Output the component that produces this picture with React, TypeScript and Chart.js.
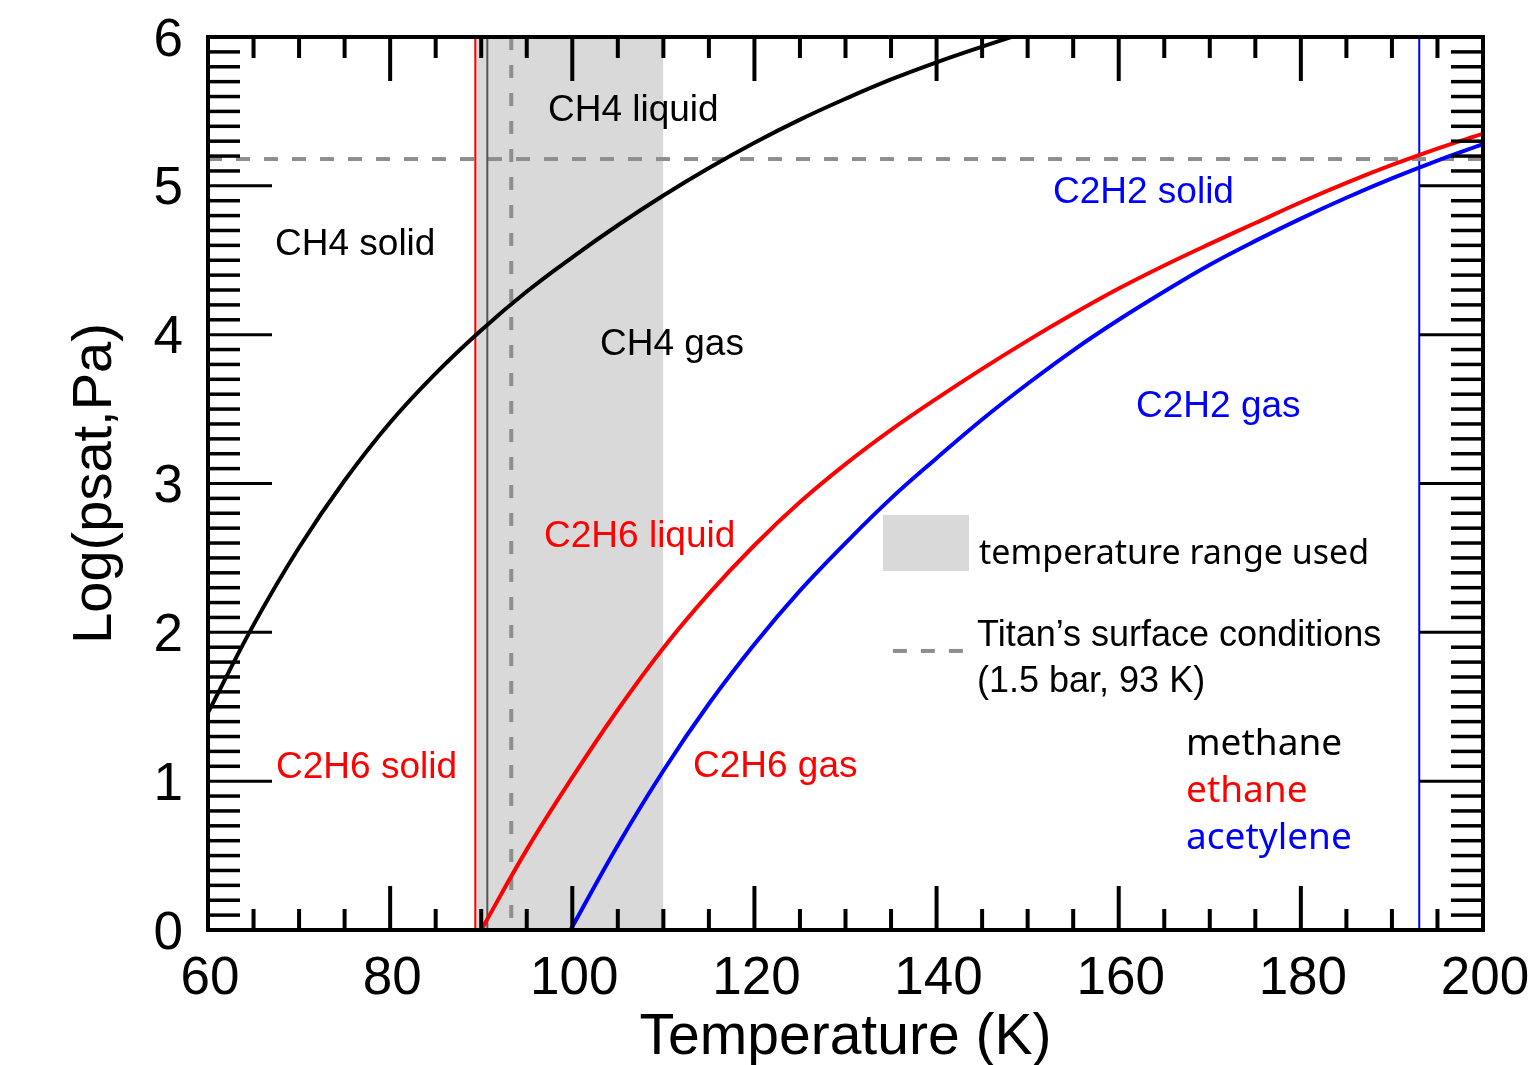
import React, { useEffect, useRef } from "react";
import { Chart, registerables } from "chart.js";

Chart.register(...registerables);

// ---- data ----
const methaneT = [60, 65, 70, 75, 80, 85, 90, 95, 100, 105, 110, 115, 120, 125, 130, 135, 140, 145, 150];
const methaneLogP = [1.46, 2.05, 2.57, 3.02, 3.41, 3.74, 4.03, 4.29, 4.52, 4.735, 4.935, 5.12, 5.29, 5.445, 5.585, 5.715, 5.83, 5.935, 6.035];

const ethaneT = [90, 95, 100, 105, 110, 115, 120, 125, 130, 135, 140, 145, 150, 155, 160, 165, 170, 175, 180, 185, 190, 195, 200];
const ethaneLogP = [0, 0.54, 1.025, 1.48, 1.895, 2.26, 2.585, 2.875, 3.13, 3.36, 3.57, 3.77, 3.96, 4.14, 4.31, 4.465, 4.61, 4.75, 4.89, 5.02, 5.14, 5.25, 5.35];

const acetyleneT = [99.8, 105, 110, 115, 120, 125, 130, 135, 140, 145, 150, 155, 160, 165, 170, 175, 180, 185, 190, 195, 200];
const acetyleneLogP = [0, 0.57, 1.07, 1.52, 1.92, 2.28, 2.6, 2.9, 3.17, 3.43, 3.67, 3.895, 4.1, 4.29, 4.47, 4.63, 4.78, 4.92, 5.05, 5.17, 5.28];

const ethaneTripleT = 89.35;
const methaneTripleT = 90.67;
const titanT = 93.3;
const titanLogP = 5.18;
const acetyleneTripleT = 193.0;
const rangeUsed = [89.4, 110];

const xTickLabels = [60, 80, 100, 120, 140, 160, 180, 200];
const yTickLabels = [0, 1, 2, 3, 4, 5, 6];

const regionLabels = [
  { text: "CH4 liquid", x: 97.33, y: 5.436, color: "#000000" },
  { text: "CH4 solid", x: 67.36, y: 4.535, color: "#000000" },
  { text: "CH4 gas", x: 103.04, y: 3.863, color: "#000000" },
  { text: "C2H6 liquid", x: 96.9, y: 2.573, color: "#ff0000" },
  { text: "C2H6 solid", x: 67.47, y: 1.021, color: "#ff0000" },
  { text: "C2H6 gas", x: 113.25, y: 1.028, color: "#ff0000" },
  { text: "C2H2 solid", x: 152.78, y: 4.885, color: "#0000ff" },
  { text: "C2H2 gas", x: 161.9, y: 3.447, color: "#0000ff" },
];

const speciesLegend = [
  { text: "methane", color: "#000000" },
  { text: "ethane", color: "#ff0000" },
  { text: "acetylene", color: "#0000ff" },
];

const SANS = "'Liberation Sans', Arial, Helvetica, sans-serif";
const HUMAN = "'Noto Sans', 'Open Sans', sans-serif";
const DASH_GRAY = "#8e8e8e";
const BAND_GRAY = "#d9d9d9";

const pts = (xs: number[], ys: number[]) => xs.map((x, i) => ({ x, y: ys[i] }));

const decorPlugin = {
  id: "decor",
  afterDatasetsDraw(chart: any) {
    const { ctx, chartArea: ca, scales } = chart;
    const xs = scales.x;
    const ys = scales.y;
    const X = (v: number) => xs.getPixelForValue(v);
    const Y = (v: number) => ys.getPixelForValue(v);
    const line = (x1: number, y1: number, x2: number, y2: number) => {
      ctx.beginPath();
      ctx.moveTo(x1, y1);
      ctx.lineTo(x2, y2);
      ctx.stroke();
    };
    ctx.save();
    ctx.strokeStyle = "#000";
    ctx.setLineDash([]);
    // x ticks, inside, top and bottom
    for (let t = 65; t < 200; t += 5) {
      const px = X(t);
      const major = t % 20 === 0;
      const len = major ? 44 : 21;
      ctx.lineWidth = 4;
      line(px, ca.bottom, px, ca.bottom - len);
      line(px, ca.top, px, ca.top + len);
    }
    // y ticks, inside, left and right
    for (let i = 1; i < 60; i++) {
      const py = Y(i / 10);
      const major = i % 10 === 0;
      const len = major ? 64 : 32;
      ctx.lineWidth = major ? 3 : 3.5;
      line(ca.left, py, ca.left + len, py);
      line(ca.right, py, ca.right - len, py);
    }
    // frame
    ctx.lineWidth = 4;
    ctx.strokeRect(ca.left, ca.top, ca.right - ca.left, ca.bottom - ca.top);

    // region labels
    ctx.textAlign = "left";
    ctx.textBaseline = "alphabetic";
    ctx.font = `37px ${SANS}`;
    regionLabels.forEach((l) => {
      ctx.fillStyle = l.color;
      ctx.fillText(l.text, X(l.x), Y(l.y));
    });

    // legend: band sample
    ctx.fillStyle = BAND_GRAY;
    ctx.fillRect(X(134.12), Y(2.788), X(143.56) - X(134.12), Y(2.412) - Y(2.788));
    ctx.fillStyle = "#000";
    ctx.font = `34px ${HUMAN}`;
    ctx.fillText("temperature range used", X(144.66), Y(2.459));

    // legend: dashed sample
    ctx.strokeStyle = DASH_GRAY;
    ctx.lineWidth = 4;
    ctx.setLineDash([14, 14]);
    line(X(135.2), Y(1.875), X(143.1), Y(1.875));
    ctx.setLineDash([]);
    ctx.fillStyle = "#000";
    ctx.font = `36px ${SANS}`;
    ctx.fillText("Titan\u2019s surface conditions", X(144.44), Y(1.908));
    ctx.fillText("(1.5 bar, 93 K)", X(144.44), Y(1.599));

    // species legend
    ctx.font = `37px ${HUMAN}`;
    const baseY = [1.176, 0.86, 0.544];
    speciesLegend.forEach((s, i) => {
      ctx.fillStyle = s.color;
      ctx.fillText(s.text, X(167.39), Y(baseY[i]));
    });
    ctx.restore();
  },
};

const zeroPad = (s: any) => {
  s.paddingLeft = 0;
  s.paddingRight = 0;
  s.paddingTop = 0;
  s.paddingBottom = 0;
};

export default function App() {
  const ref = useRef<HTMLCanvasElement | null>(null);
  useEffect(() => {
    if (!ref.current) return;
    const curve = (data: any, color: string) => ({
      data,
      borderColor: color,
      borderWidth: 4,
      pointRadius: 0,
      showLine: true,
      fill: false,
      tension: 0.4,
      order: 0,
    });
    const straight = (data: any, color: string, width: number, dash: number[] = []) => ({
      data,
      borderColor: color,
      borderWidth: width,
      borderDash: dash,
      pointRadius: 0,
      showLine: true,
      fill: false,
      tension: 0,
      order: 1,
    });
    const chart = new Chart(ref.current, {
      type: "scatter",
      data: {
        datasets: [
          curve(pts(methaneT, methaneLogP), "#000000"),
          curve(pts(ethaneT, ethaneLogP), "#ff0000"),
          curve(pts(acetyleneT, acetyleneLogP), "#0000ff"),
          straight([{ x: ethaneTripleT, y: 0 }, { x: ethaneTripleT, y: 6 }], "#ff0000", 2),
          straight([{ x: methaneTripleT, y: 0 }, { x: methaneTripleT, y: 6 }], "#555555", 2),
          straight([{ x: titanT, y: 6 }, { x: titanT, y: 0 }], DASH_GRAY, 4, [13, 15]),
          straight([{ x: 60, y: titanLogP }, { x: 200, y: titanLogP }], DASH_GRAY, 4, [14, 14]),
          straight([{ x: acetyleneTripleT, y: 0 }, { x: acetyleneTripleT, y: 6 }], "#0000ff", 2),
          {
            data: [{ x: rangeUsed[0], y: 6 }, { x: rangeUsed[1], y: 6 }],
            borderWidth: 0,
            borderColor: "rgba(0,0,0,0)",
            backgroundColor: BAND_GRAY,
            pointRadius: 0,
            showLine: true,
            fill: "origin",
            tension: 0,
            order: 10,
          } as any,
        ],
      },
      options: {
        animation: false,
        responsive: false,
        maintainAspectRatio: false,
        events: [],
        layout: { padding: { left: 0, top: 37, right: 47, bottom: 0 } },
        plugins: { legend: { display: false }, tooltip: { enabled: false } },
        scales: {
          x: {
            type: "linear",
            min: 60,
            max: 200,
            afterBuildTicks: (s: any) => {
              s.ticks = xTickLabels.map((v) => ({ value: v }));
            },
            afterFit: (s: any) => {
              s.height = 135;
              zeroPad(s);
            },
            ticks: {
              font: { family: SANS, size: 53 },
              color: "#000",
              padding: 10,
              maxRotation: 0,
              autoSkip: false,
              labelOffset: (c: any) => (c.tick && c.tick.value < 100 ? 10 : 2),
              callback: (v: any) => String(v),
            },
            grid: { display: false },
            border: { display: false },
            title: {
              display: true,
              text: "Temperature (K)",
              color: "#000",
              font: { family: SANS, size: 57, lineHeight: 1 },
              padding: { top: 0, bottom: -2 },
            },
          },
          y: {
            type: "linear",
            min: 0,
            max: 6,
            afterBuildTicks: (s: any) => {
              s.ticks = yTickLabels.map((v) => ({ value: v }));
            },
            afterFit: (s: any) => {
              s.width = 208;
              zeroPad(s);
            },
            ticks: {
              font: { family: SANS, size: 53 },
              color: "#000",
              padding: 17,
              labelOffset: 4,
              callback: (v: any) => String(v),
            },
            grid: { display: false },
            border: { display: false },
            title: {
              display: true,
              text: "Log(psat,Pa)",
              color: "#000",
              font: { family: SANS, size: 56, lineHeight: 1 },
              padding: { top: 68, bottom: 0 },
            },
          },
        },
      } as any,
      plugins: [decorPlugin],
    });
    return () => chart.destroy();
  }, []);
  return (
    <div style={{ position: "fixed", left: 0, top: 0, width: 1530, height: 1065, background: "#fff" }}>
      <canvas ref={ref} width={1530} height={1065} style={{ display: "block" }} />
    </div>
  );
}
